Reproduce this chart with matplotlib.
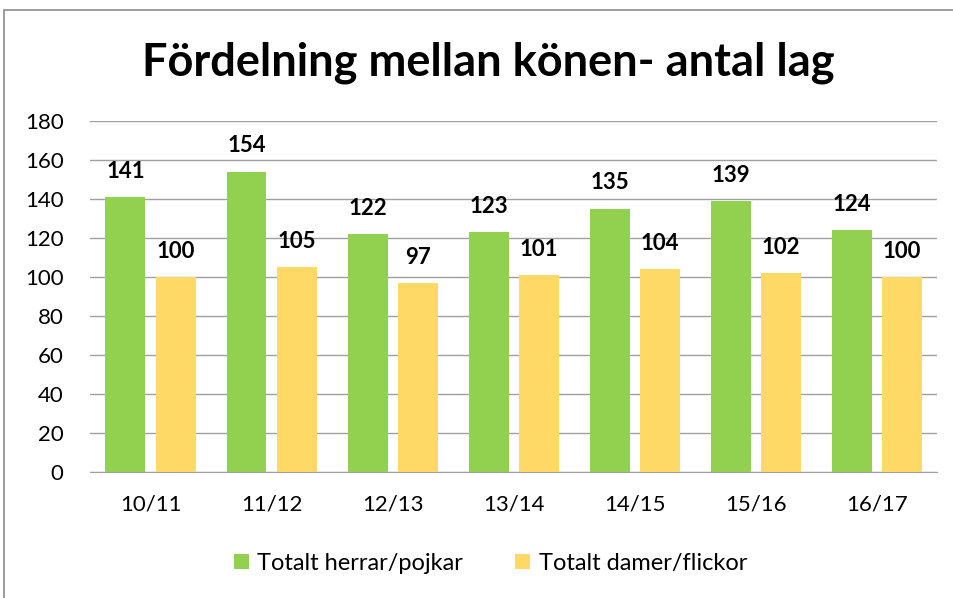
import numpy as np
import matplotlib.pyplot as plt
from matplotlib.patches import Rectangle

plt.rcParams['font.family'] = ['Lato', 'DejaVu Sans']

seasons = ['10/11', '11/12', '12/13', '13/14', '14/15', '15/16', '16/17']
herrar = [141, 154, 122, 123, 135, 139, 124]
damer = [100, 105, 97, 101, 104, 102, 100]

green = '#92D050'
yellow = '#FFD966'

fig = plt.figure(figsize=(9.54, 5.98), dpi=100)
ax = fig.add_axes([0.0943, 0.2107, 0.8884, 0.587])

# chart area border
fig.patches.append(Rectangle((4 / 954, -0.1), 1.2, 1 - 10 / 598 + 0.1,
                             transform=fig.transFigure, fill=False,
                             edgecolor='#8c8c8c', linewidth=1.2))

x = np.arange(len(seasons))
w = 0.33
off = 0.207
b1 = ax.bar(x - off, herrar, w, color=green, zorder=3, label='Totalt herrar/pojkar')
b2 = ax.bar(x + off, damer, w, color=yellow, zorder=3, label='Totalt damer/flickor')

for bars, vals in ((b1, herrar), (b2, damer)):
    for r, v in zip(bars, vals):
        ax.annotate(str(v), (r.get_x() + r.get_width() / 2, v),
                    xytext=(0, 11), textcoords='offset points',
                    ha='center', va='bottom', fontsize=16, fontweight='bold')

ax.set_xlim(-0.5, len(seasons) - 0.5)
ax.set_ylim(0, 180)
ax.set_yticks(range(0, 181, 20))
ax.set_xticks(x)
ax.set_xticklabels(seasons)
ax.tick_params(axis='both', length=0, labelsize=16)
ax.tick_params(axis='x', pad=16)
ax.tick_params(axis='y', pad=19)
ax.grid(axis='y', color='#a0a0a0', linewidth=1, zorder=0)
for s in ['top', 'right', 'left']:
    ax.spines[s].set_visible(False)
ax.spines['bottom'].set_color('#a0a0a0')

fig.text(0.512, 0.895, 'Fördelning mellan könen- antal lag', ha='center', va='center',
         fontsize=32.5, fontweight='bold')

fig.legend(handles=[b1, b2], loc='center', bbox_to_anchor=(0.514, 0.058), ncol=2,
           frameon=False, fontsize=17, handlelength=0.65, handleheight=0.65,
           handletextpad=0.35, columnspacing=2.2)

fig.savefig('out.png', dpi=100)
